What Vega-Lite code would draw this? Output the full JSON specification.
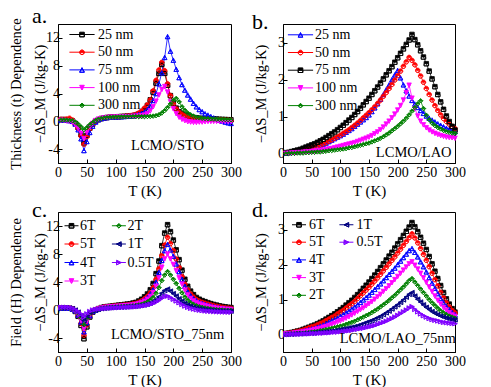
{
"$schema":"https://vega.github.io/schema/vega-lite/v6.json",
"background":"white",
"padding":{"left":7,"top":4,"right":0,"bottom":0},
"columns":2,
"spacing":{"row":49,"column":52},
"bounds":"flush",
"config":{
"font":"Liberation Serif",
"view":{"stroke":"#000","strokeWidth":1},
"axis":{"grid":false,"labelFontSize":14,"labelColor":"#000","titleFontSize":15,"titleFontWeight":"normal","titleColor":"#000","tickColor":"#000","domainColor":"#000","tickSize":-4,"labelPadding":2.5,"labelFlush":false,"labelOverlap":false,"titlePadding":2},
"axisX":{"labelPadding":6,"titlePadding":4},
"axisY":{"titleFontSize":14.5,"titleLineHeight":24},
"legend":{"orient":"none","symbolSize":196,"symbolStrokeWidth":1,"symbolOpacity":1,"labelFontSize":14,"labelColor":"#000","padding":0,"rowPadding":2.7},
"title":{"fontSize":22,"fontWeight":"normal","anchor":"start","frame":"group","offset":-10,"color":"#000"}
},
"datasets":{
"a":[
{"s":"25 nm","T":5,"v":0.25},{"s":"25 nm","T":10,"v":0.25},{"s":"25 nm","T":15,"v":0.2},{"s":"25 nm","T":20,"v":0.15},{"s":"25 nm","T":25,"v":0.05},{"s":"25 nm","T":30,"v":-0.3},{"s":"25 nm","T":35,"v":-0.9},{"s":"25 nm","T":40,"v":-1.9},{"s":"25 nm","T":45,"v":-3.1},{"s":"25 nm","T":50,"v":-2.0},{"s":"25 nm","T":55,"v":-1.0},{"s":"25 nm","T":60,"v":-0.4},{"s":"25 nm","T":65,"v":0},{"s":"25 nm","T":70,"v":0.25},{"s":"25 nm","T":75,"v":0.4},{"s":"25 nm","T":80,"v":0.5},{"s":"25 nm","T":85,"v":0.55},{"s":"25 nm","T":90,"v":0.6},{"s":"25 nm","T":95,"v":0.62},{"s":"25 nm","T":100,"v":0.65},{"s":"25 nm","T":105,"v":0.67},{"s":"25 nm","T":110,"v":0.7},{"s":"25 nm","T":115,"v":0.72},{"s":"25 nm","T":120,"v":0.75},{"s":"25 nm","T":125,"v":0.78},{"s":"25 nm","T":130,"v":0.82},{"s":"25 nm","T":135,"v":0.9},{"s":"25 nm","T":140,"v":1.05},{"s":"25 nm","T":145,"v":1.3},{"s":"25 nm","T":150,"v":1.7},{"s":"25 nm","T":155,"v":2.3},{"s":"25 nm","T":160,"v":3.1},{"s":"25 nm","T":165,"v":4.2},{"s":"25 nm","T":170,"v":5.5},{"s":"25 nm","T":175,"v":6.9},{"s":"25 nm","T":180,"v":8.2},{"s":"25 nm","T":185,"v":6.9},{"s":"25 nm","T":190,"v":5.2},{"s":"25 nm","T":195,"v":3.7},{"s":"25 nm","T":200,"v":2.6},{"s":"25 nm","T":205,"v":1.9},{"s":"25 nm","T":210,"v":1.4},{"s":"25 nm","T":215,"v":1.1},{"s":"25 nm","T":220,"v":0.9},{"s":"25 nm","T":225,"v":0.75},{"s":"25 nm","T":230,"v":0.65},{"s":"25 nm","T":235,"v":0.55},{"s":"25 nm","T":240,"v":0.5},{"s":"25 nm","T":245,"v":0.45},{"s":"25 nm","T":250,"v":0.42},{"s":"25 nm","T":255,"v":0.4},{"s":"25 nm","T":260,"v":0.38},{"s":"25 nm","T":265,"v":0.36},{"s":"25 nm","T":270,"v":0.34},{"s":"25 nm","T":275,"v":0.32},{"s":"25 nm","T":280,"v":0.3},{"s":"25 nm","T":285,"v":0.28},{"s":"25 nm","T":290,"v":0.26},{"s":"25 nm","T":295,"v":0.24},{"s":"25 nm","T":300,"v":0.22},
{"s":"50 nm","T":5,"v":0.3},{"s":"50 nm","T":10,"v":0.3},{"s":"50 nm","T":15,"v":0.35},{"s":"50 nm","T":20,"v":0.45},{"s":"50 nm","T":25,"v":0.2},{"s":"50 nm","T":30,"v":-0.3},{"s":"50 nm","T":35,"v":-1.0},{"s":"50 nm","T":40,"v":-2.1},{"s":"50 nm","T":45,"v":-3.3},{"s":"50 nm","T":50,"v":-2.2},{"s":"50 nm","T":55,"v":-1.1},{"s":"50 nm","T":60,"v":-0.4},{"s":"50 nm","T":65,"v":0},{"s":"50 nm","T":70,"v":0.25},{"s":"50 nm","T":75,"v":0.4},{"s":"50 nm","T":80,"v":0.5},{"s":"50 nm","T":85,"v":0.55},{"s":"50 nm","T":90,"v":0.6},{"s":"50 nm","T":95,"v":0.62},{"s":"50 nm","T":100,"v":0.65},{"s":"50 nm","T":105,"v":0.67},{"s":"50 nm","T":110,"v":0.7},{"s":"50 nm","T":115,"v":0.73},{"s":"50 nm","T":120,"v":0.77},{"s":"50 nm","T":125,"v":0.82},{"s":"50 nm","T":130,"v":0.9},{"s":"50 nm","T":135,"v":1.0},{"s":"50 nm","T":140,"v":1.2},{"s":"50 nm","T":145,"v":1.5},{"s":"50 nm","T":150,"v":1.9},{"s":"50 nm","T":155,"v":2.4},{"s":"50 nm","T":160,"v":3.1},{"s":"50 nm","T":165,"v":4.4},{"s":"50 nm","T":170,"v":5.9},{"s":"50 nm","T":175,"v":7.4},{"s":"50 nm","T":180,"v":8.5},{"s":"50 nm","T":185,"v":7.3},{"s":"50 nm","T":190,"v":5.4},{"s":"50 nm","T":195,"v":3.7},{"s":"50 nm","T":200,"v":2.5},{"s":"50 nm","T":205,"v":1.8},{"s":"50 nm","T":210,"v":1.3},{"s":"50 nm","T":215,"v":1.0},{"s":"50 nm","T":220,"v":0.8},{"s":"50 nm","T":225,"v":0.65},{"s":"50 nm","T":230,"v":0.55},{"s":"50 nm","T":235,"v":0.48},{"s":"50 nm","T":240,"v":0.42},{"s":"50 nm","T":245,"v":0.38},{"s":"50 nm","T":250,"v":0.35},{"s":"50 nm","T":255,"v":0.33},{"s":"50 nm","T":260,"v":0.31},{"s":"50 nm","T":265,"v":0.29},{"s":"50 nm","T":270,"v":0.27},{"s":"50 nm","T":275,"v":0.25},{"s":"50 nm","T":280,"v":0.23},{"s":"50 nm","T":285,"v":0.21},{"s":"50 nm","T":290,"v":0.2},{"s":"50 nm","T":295,"v":0.18},{"s":"50 nm","T":300,"v":0.16},
{"s":"75 nm","T":5,"v":0.2},{"s":"75 nm","T":10,"v":0.2},{"s":"75 nm","T":15,"v":0.15},{"s":"75 nm","T":20,"v":0.1},{"s":"75 nm","T":25,"v":0},{"s":"75 nm","T":30,"v":-0.4},{"s":"75 nm","T":35,"v":-1.2},{"s":"75 nm","T":40,"v":-2.5},{"s":"75 nm","T":45,"v":-4.2},{"s":"75 nm","T":50,"v":-2.9},{"s":"75 nm","T":55,"v":-1.6},{"s":"75 nm","T":60,"v":-0.7},{"s":"75 nm","T":65,"v":-0.1},{"s":"75 nm","T":70,"v":0.25},{"s":"75 nm","T":75,"v":0.4},{"s":"75 nm","T":80,"v":0.5},{"s":"75 nm","T":85,"v":0.55},{"s":"75 nm","T":90,"v":0.6},{"s":"75 nm","T":95,"v":0.62},{"s":"75 nm","T":100,"v":0.64},{"s":"75 nm","T":105,"v":0.66},{"s":"75 nm","T":110,"v":0.68},{"s":"75 nm","T":115,"v":0.7},{"s":"75 nm","T":120,"v":0.72},{"s":"75 nm","T":125,"v":0.75},{"s":"75 nm","T":130,"v":0.8},{"s":"75 nm","T":135,"v":0.9},{"s":"75 nm","T":140,"v":1.0},{"s":"75 nm","T":145,"v":1.15},{"s":"75 nm","T":150,"v":1.35},{"s":"75 nm","T":155,"v":1.7},{"s":"75 nm","T":160,"v":2.2},{"s":"75 nm","T":165,"v":3.0},{"s":"75 nm","T":170,"v":4.0},{"s":"75 nm","T":175,"v":5.4},{"s":"75 nm","T":180,"v":7.0},{"s":"75 nm","T":185,"v":9.2},{"s":"75 nm","T":190,"v":12.2},{"s":"75 nm","T":195,"v":10.1},{"s":"75 nm","T":200,"v":8.8},{"s":"75 nm","T":205,"v":7.5},{"s":"75 nm","T":210,"v":6.3},{"s":"75 nm","T":215,"v":5.3},{"s":"75 nm","T":220,"v":4.5},{"s":"75 nm","T":225,"v":3.8},{"s":"75 nm","T":230,"v":3.2},{"s":"75 nm","T":235,"v":2.6},{"s":"75 nm","T":240,"v":2.1},{"s":"75 nm","T":245,"v":1.7},{"s":"75 nm","T":250,"v":1.4},{"s":"75 nm","T":255,"v":1.1},{"s":"75 nm","T":260,"v":0.9},{"s":"75 nm","T":265,"v":0.7},{"s":"75 nm","T":270,"v":0.5},{"s":"75 nm","T":275,"v":0.35},{"s":"75 nm","T":280,"v":0.2},{"s":"75 nm","T":285,"v":0.05},{"s":"75 nm","T":290,"v":-0.1},{"s":"75 nm","T":295,"v":-0.2},{"s":"75 nm","T":300,"v":-0.3},
{"s":"100 nm","T":5,"v":0.15},{"s":"100 nm","T":10,"v":0.1},{"s":"100 nm","T":15,"v":0.05},{"s":"100 nm","T":20,"v":0},{"s":"100 nm","T":25,"v":-0.1},{"s":"100 nm","T":30,"v":-0.5},{"s":"100 nm","T":35,"v":-1.0},{"s":"100 nm","T":40,"v":-1.7},{"s":"100 nm","T":45,"v":-2.5},{"s":"100 nm","T":50,"v":-1.6},{"s":"100 nm","T":55,"v":-0.8},{"s":"100 nm","T":60,"v":-0.3},{"s":"100 nm","T":65,"v":0.1},{"s":"100 nm","T":70,"v":0.3},{"s":"100 nm","T":75,"v":0.4},{"s":"100 nm","T":80,"v":0.5},{"s":"100 nm","T":85,"v":0.55},{"s":"100 nm","T":90,"v":0.58},{"s":"100 nm","T":95,"v":0.6},{"s":"100 nm","T":100,"v":0.62},{"s":"100 nm","T":105,"v":0.63},{"s":"100 nm","T":110,"v":0.65},{"s":"100 nm","T":115,"v":0.66},{"s":"100 nm","T":120,"v":0.67},{"s":"100 nm","T":125,"v":0.68},{"s":"100 nm","T":130,"v":0.7},{"s":"100 nm","T":135,"v":0.72},{"s":"100 nm","T":140,"v":0.75},{"s":"100 nm","T":145,"v":0.8},{"s":"100 nm","T":150,"v":0.9},{"s":"100 nm","T":155,"v":1.1},{"s":"100 nm","T":160,"v":1.5},{"s":"100 nm","T":165,"v":2.1},{"s":"100 nm","T":170,"v":2.9},{"s":"100 nm","T":175,"v":3.8},{"s":"100 nm","T":180,"v":4.6},{"s":"100 nm","T":185,"v":5.0},{"s":"100 nm","T":190,"v":4.2},{"s":"100 nm","T":195,"v":2.8},{"s":"100 nm","T":200,"v":1.8},{"s":"100 nm","T":205,"v":1.1},{"s":"100 nm","T":210,"v":0.6},{"s":"100 nm","T":215,"v":0.3},{"s":"100 nm","T":220,"v":0.1},{"s":"100 nm","T":225,"v":-0.05},{"s":"100 nm","T":230,"v":-0.1},{"s":"100 nm","T":235,"v":-0.15},{"s":"100 nm","T":240,"v":-0.15},{"s":"100 nm","T":245,"v":-0.1},{"s":"100 nm","T":250,"v":-0.1},{"s":"100 nm","T":255,"v":-0.05},{"s":"100 nm","T":260,"v":0},{"s":"100 nm","T":265,"v":0},{"s":"100 nm","T":270,"v":0},{"s":"100 nm","T":275,"v":0},{"s":"100 nm","T":280,"v":0},{"s":"100 nm","T":285,"v":0},{"s":"100 nm","T":290,"v":0},{"s":"100 nm","T":295,"v":0},{"s":"100 nm","T":300,"v":0},
{"s":"300 nm","T":5,"v":0.2},{"s":"300 nm","T":10,"v":0.2},{"s":"300 nm","T":15,"v":0.2},{"s":"300 nm","T":20,"v":0.15},{"s":"300 nm","T":25,"v":0.1},{"s":"300 nm","T":30,"v":-0.1},{"s":"300 nm","T":35,"v":-0.4},{"s":"300 nm","T":40,"v":-0.8},{"s":"300 nm","T":45,"v":-1.2},{"s":"300 nm","T":50,"v":-0.9},{"s":"300 nm","T":55,"v":-0.5},{"s":"300 nm","T":60,"v":-0.2},{"s":"300 nm","T":65,"v":0.1},{"s":"300 nm","T":70,"v":0.3},{"s":"300 nm","T":75,"v":0.4},{"s":"300 nm","T":80,"v":0.5},{"s":"300 nm","T":85,"v":0.55},{"s":"300 nm","T":90,"v":0.58},{"s":"300 nm","T":95,"v":0.6},{"s":"300 nm","T":100,"v":0.62},{"s":"300 nm","T":105,"v":0.63},{"s":"300 nm","T":110,"v":0.64},{"s":"300 nm","T":115,"v":0.65},{"s":"300 nm","T":120,"v":0.66},{"s":"300 nm","T":125,"v":0.67},{"s":"300 nm","T":130,"v":0.68},{"s":"300 nm","T":135,"v":0.68},{"s":"300 nm","T":140,"v":0.68},{"s":"300 nm","T":145,"v":0.68},{"s":"300 nm","T":150,"v":0.68},{"s":"300 nm","T":155,"v":0.7},{"s":"300 nm","T":160,"v":0.72},{"s":"300 nm","T":165,"v":0.76},{"s":"300 nm","T":170,"v":0.82},{"s":"300 nm","T":175,"v":0.95},{"s":"300 nm","T":180,"v":1.2},{"s":"300 nm","T":185,"v":1.55},{"s":"300 nm","T":190,"v":2.0},{"s":"300 nm","T":195,"v":2.5},{"s":"300 nm","T":200,"v":3.0},{"s":"300 nm","T":205,"v":3.3},{"s":"300 nm","T":210,"v":2.8},{"s":"300 nm","T":215,"v":2.1},{"s":"300 nm","T":220,"v":1.6},{"s":"300 nm","T":225,"v":1.2},{"s":"300 nm","T":230,"v":0.95},{"s":"300 nm","T":235,"v":0.75},{"s":"300 nm","T":240,"v":0.6},{"s":"300 nm","T":245,"v":0.5},{"s":"300 nm","T":250,"v":0.45},{"s":"300 nm","T":255,"v":0.4},{"s":"300 nm","T":260,"v":0.38},{"s":"300 nm","T":265,"v":0.36},{"s":"300 nm","T":270,"v":0.34},{"s":"300 nm","T":275,"v":0.32},{"s":"300 nm","T":280,"v":0.3},{"s":"300 nm","T":285,"v":0.28},{"s":"300 nm","T":290,"v":0.26},{"s":"300 nm","T":295,"v":0.24},{"s":"300 nm","T":300,"v":0.22}
],
"b":[
{"s":"25 nm","T":5,"v":0.02},{"s":"25 nm","T":10,"v":0.03},{"s":"25 nm","T":15,"v":0.04},{"s":"25 nm","T":20,"v":0.05},{"s":"25 nm","T":25,"v":0.06},{"s":"25 nm","T":30,"v":0.08},{"s":"25 nm","T":35,"v":0.1},{"s":"25 nm","T":40,"v":0.11},{"s":"25 nm","T":45,"v":0.13},{"s":"25 nm","T":50,"v":0.15},{"s":"25 nm","T":55,"v":0.17},{"s":"25 nm","T":60,"v":0.2},{"s":"25 nm","T":65,"v":0.23},{"s":"25 nm","T":70,"v":0.26},{"s":"25 nm","T":75,"v":0.29},{"s":"25 nm","T":80,"v":0.33},{"s":"25 nm","T":85,"v":0.37},{"s":"25 nm","T":90,"v":0.41},{"s":"25 nm","T":95,"v":0.45},{"s":"25 nm","T":100,"v":0.49},{"s":"25 nm","T":105,"v":0.53},{"s":"25 nm","T":110,"v":0.58},{"s":"25 nm","T":115,"v":0.63},{"s":"25 nm","T":120,"v":0.68},{"s":"25 nm","T":125,"v":0.74},{"s":"25 nm","T":130,"v":0.8},{"s":"25 nm","T":135,"v":0.86},{"s":"25 nm","T":140,"v":0.92},{"s":"25 nm","T":145,"v":0.98},{"s":"25 nm","T":150,"v":1.05},{"s":"25 nm","T":155,"v":1.14},{"s":"25 nm","T":160,"v":1.24},{"s":"25 nm","T":165,"v":1.35},{"s":"25 nm","T":170,"v":1.47},{"s":"25 nm","T":175,"v":1.6},{"s":"25 nm","T":180,"v":1.73},{"s":"25 nm","T":185,"v":1.86},{"s":"25 nm","T":190,"v":2.0},{"s":"25 nm","T":195,"v":2.13},{"s":"25 nm","T":200,"v":2.25},{"s":"25 nm","T":205,"v":2.05},{"s":"25 nm","T":210,"v":1.86},{"s":"25 nm","T":215,"v":1.7},{"s":"25 nm","T":220,"v":1.56},{"s":"25 nm","T":225,"v":1.44},{"s":"25 nm","T":230,"v":1.34},{"s":"25 nm","T":235,"v":1.25},{"s":"25 nm","T":240,"v":1.17},{"s":"25 nm","T":245,"v":1.09},{"s":"25 nm","T":250,"v":1.02},{"s":"25 nm","T":255,"v":0.96},{"s":"25 nm","T":260,"v":0.91},{"s":"25 nm","T":265,"v":0.86},{"s":"25 nm","T":270,"v":0.81},{"s":"25 nm","T":275,"v":0.77},{"s":"25 nm","T":280,"v":0.73},{"s":"25 nm","T":285,"v":0.69},{"s":"25 nm","T":290,"v":0.66},{"s":"25 nm","T":295,"v":0.63},{"s":"25 nm","T":300,"v":0.6},
{"s":"50 nm","T":5,"v":0.02},{"s":"50 nm","T":10,"v":0.03},{"s":"50 nm","T":15,"v":0.04},{"s":"50 nm","T":20,"v":0.05},{"s":"50 nm","T":25,"v":0.07},{"s":"50 nm","T":30,"v":0.08},{"s":"50 nm","T":35,"v":0.1},{"s":"50 nm","T":40,"v":0.12},{"s":"50 nm","T":45,"v":0.14},{"s":"50 nm","T":50,"v":0.16},{"s":"50 nm","T":55,"v":0.18},{"s":"50 nm","T":60,"v":0.21},{"s":"50 nm","T":65,"v":0.24},{"s":"50 nm","T":70,"v":0.27},{"s":"50 nm","T":75,"v":0.3},{"s":"50 nm","T":80,"v":0.34},{"s":"50 nm","T":85,"v":0.38},{"s":"50 nm","T":90,"v":0.42},{"s":"50 nm","T":95,"v":0.46},{"s":"50 nm","T":100,"v":0.5},{"s":"50 nm","T":105,"v":0.55},{"s":"50 nm","T":110,"v":0.6},{"s":"50 nm","T":115,"v":0.65},{"s":"50 nm","T":120,"v":0.71},{"s":"50 nm","T":125,"v":0.77},{"s":"50 nm","T":130,"v":0.83},{"s":"50 nm","T":135,"v":0.9},{"s":"50 nm","T":140,"v":0.97},{"s":"50 nm","T":145,"v":1.04},{"s":"50 nm","T":150,"v":1.11},{"s":"50 nm","T":155,"v":1.19},{"s":"50 nm","T":160,"v":1.27},{"s":"50 nm","T":165,"v":1.36},{"s":"50 nm","T":170,"v":1.45},{"s":"50 nm","T":175,"v":1.55},{"s":"50 nm","T":180,"v":1.65},{"s":"50 nm","T":185,"v":1.76},{"s":"50 nm","T":190,"v":1.87},{"s":"50 nm","T":195,"v":1.99},{"s":"50 nm","T":200,"v":2.11},{"s":"50 nm","T":205,"v":2.23},{"s":"50 nm","T":210,"v":2.36},{"s":"50 nm","T":215,"v":2.48},{"s":"50 nm","T":220,"v":2.6},{"s":"50 nm","T":225,"v":2.52},{"s":"50 nm","T":230,"v":2.4},{"s":"50 nm","T":235,"v":2.25},{"s":"50 nm","T":240,"v":2.1},{"s":"50 nm","T":245,"v":1.93},{"s":"50 nm","T":250,"v":1.76},{"s":"50 nm","T":255,"v":1.6},{"s":"50 nm","T":260,"v":1.45},{"s":"50 nm","T":265,"v":1.3},{"s":"50 nm","T":270,"v":1.17},{"s":"50 nm","T":275,"v":1.05},{"s":"50 nm","T":280,"v":0.95},{"s":"50 nm","T":285,"v":0.87},{"s":"50 nm","T":290,"v":0.8},{"s":"50 nm","T":295,"v":0.74},{"s":"50 nm","T":300,"v":0.68},
{"s":"75 nm","T":5,"v":0.03},{"s":"75 nm","T":10,"v":0.04},{"s":"75 nm","T":15,"v":0.06},{"s":"75 nm","T":20,"v":0.08},{"s":"75 nm","T":25,"v":0.1},{"s":"75 nm","T":30,"v":0.12},{"s":"75 nm","T":35,"v":0.15},{"s":"75 nm","T":40,"v":0.18},{"s":"75 nm","T":45,"v":0.21},{"s":"75 nm","T":50,"v":0.24},{"s":"75 nm","T":55,"v":0.27},{"s":"75 nm","T":60,"v":0.31},{"s":"75 nm","T":65,"v":0.35},{"s":"75 nm","T":70,"v":0.39},{"s":"75 nm","T":75,"v":0.44},{"s":"75 nm","T":80,"v":0.49},{"s":"75 nm","T":85,"v":0.54},{"s":"75 nm","T":90,"v":0.59},{"s":"75 nm","T":95,"v":0.65},{"s":"75 nm","T":100,"v":0.71},{"s":"75 nm","T":105,"v":0.77},{"s":"75 nm","T":110,"v":0.84},{"s":"75 nm","T":115,"v":0.91},{"s":"75 nm","T":120,"v":0.98},{"s":"75 nm","T":125,"v":1.06},{"s":"75 nm","T":130,"v":1.14},{"s":"75 nm","T":135,"v":1.23},{"s":"75 nm","T":140,"v":1.32},{"s":"75 nm","T":145,"v":1.41},{"s":"75 nm","T":150,"v":1.5},{"s":"75 nm","T":155,"v":1.6},{"s":"75 nm","T":160,"v":1.7},{"s":"75 nm","T":165,"v":1.8},{"s":"75 nm","T":170,"v":1.91},{"s":"75 nm","T":175,"v":2.02},{"s":"75 nm","T":180,"v":2.13},{"s":"75 nm","T":185,"v":2.24},{"s":"75 nm","T":190,"v":2.35},{"s":"75 nm","T":195,"v":2.47},{"s":"75 nm","T":200,"v":2.59},{"s":"75 nm","T":205,"v":2.71},{"s":"75 nm","T":210,"v":2.83},{"s":"75 nm","T":215,"v":2.95},{"s":"75 nm","T":220,"v":3.07},{"s":"75 nm","T":225,"v":3.22},{"s":"75 nm","T":230,"v":3.08},{"s":"75 nm","T":235,"v":2.94},{"s":"75 nm","T":240,"v":2.78},{"s":"75 nm","T":245,"v":2.61},{"s":"75 nm","T":250,"v":2.43},{"s":"75 nm","T":255,"v":2.23},{"s":"75 nm","T":260,"v":2.02},{"s":"75 nm","T":265,"v":1.81},{"s":"75 nm","T":270,"v":1.6},{"s":"75 nm","T":275,"v":1.4},{"s":"75 nm","T":280,"v":1.2},{"s":"75 nm","T":285,"v":1.02},{"s":"75 nm","T":290,"v":0.87},{"s":"75 nm","T":295,"v":0.74},{"s":"75 nm","T":300,"v":0.64},
{"s":"100 nm","T":5,"v":0.01},{"s":"100 nm","T":10,"v":0.01},{"s":"100 nm","T":15,"v":0.02},{"s":"100 nm","T":20,"v":0.02},{"s":"100 nm","T":25,"v":0.03},{"s":"100 nm","T":30,"v":0.03},{"s":"100 nm","T":35,"v":0.04},{"s":"100 nm","T":40,"v":0.05},{"s":"100 nm","T":45,"v":0.05},{"s":"100 nm","T":50,"v":0.06},{"s":"100 nm","T":55,"v":0.07},{"s":"100 nm","T":60,"v":0.08},{"s":"100 nm","T":65,"v":0.09},{"s":"100 nm","T":70,"v":0.1},{"s":"100 nm","T":75,"v":0.11},{"s":"100 nm","T":80,"v":0.13},{"s":"100 nm","T":85,"v":0.14},{"s":"100 nm","T":90,"v":0.16},{"s":"100 nm","T":95,"v":0.18},{"s":"100 nm","T":100,"v":0.2},{"s":"100 nm","T":105,"v":0.22},{"s":"100 nm","T":110,"v":0.24},{"s":"100 nm","T":115,"v":0.26},{"s":"100 nm","T":120,"v":0.28},{"s":"100 nm","T":125,"v":0.3},{"s":"100 nm","T":130,"v":0.33},{"s":"100 nm","T":135,"v":0.36},{"s":"100 nm","T":140,"v":0.39},{"s":"100 nm","T":145,"v":0.42},{"s":"100 nm","T":150,"v":0.45},{"s":"100 nm","T":155,"v":0.49},{"s":"100 nm","T":160,"v":0.54},{"s":"100 nm","T":165,"v":0.59},{"s":"100 nm","T":170,"v":0.65},{"s":"100 nm","T":175,"v":0.72},{"s":"100 nm","T":180,"v":0.8},{"s":"100 nm","T":185,"v":0.88},{"s":"100 nm","T":190,"v":0.97},{"s":"100 nm","T":195,"v":1.07},{"s":"100 nm","T":200,"v":1.18},{"s":"100 nm","T":205,"v":1.3},{"s":"100 nm","T":210,"v":1.45},{"s":"100 nm","T":215,"v":1.65},{"s":"100 nm","T":220,"v":1.85},{"s":"100 nm","T":225,"v":1.5},{"s":"100 nm","T":230,"v":1.22},{"s":"100 nm","T":235,"v":1.02},{"s":"100 nm","T":240,"v":0.88},{"s":"100 nm","T":245,"v":0.78},{"s":"100 nm","T":250,"v":0.7},{"s":"100 nm","T":255,"v":0.64},{"s":"100 nm","T":260,"v":0.59},{"s":"100 nm","T":265,"v":0.55},{"s":"100 nm","T":270,"v":0.52},{"s":"100 nm","T":275,"v":0.49},{"s":"100 nm","T":280,"v":0.47},{"s":"100 nm","T":285,"v":0.45},{"s":"100 nm","T":290,"v":0.44},{"s":"100 nm","T":295,"v":0.43},{"s":"100 nm","T":300,"v":0.42},
{"s":"300 nm","T":5,"v":0},{"s":"300 nm","T":10,"v":0.01},{"s":"300 nm","T":15,"v":0.01},{"s":"300 nm","T":20,"v":0.01},{"s":"300 nm","T":25,"v":0.02},{"s":"300 nm","T":30,"v":0.02},{"s":"300 nm","T":35,"v":0.02},{"s":"300 nm","T":40,"v":0.03},{"s":"300 nm","T":45,"v":0.03},{"s":"300 nm","T":50,"v":0.04},{"s":"300 nm","T":55,"v":0.04},{"s":"300 nm","T":60,"v":0.05},{"s":"300 nm","T":65,"v":0.05},{"s":"300 nm","T":70,"v":0.06},{"s":"300 nm","T":75,"v":0.07},{"s":"300 nm","T":80,"v":0.08},{"s":"300 nm","T":85,"v":0.09},{"s":"300 nm","T":90,"v":0.1},{"s":"300 nm","T":95,"v":0.11},{"s":"300 nm","T":100,"v":0.12},{"s":"300 nm","T":105,"v":0.13},{"s":"300 nm","T":110,"v":0.14},{"s":"300 nm","T":115,"v":0.16},{"s":"300 nm","T":120,"v":0.17},{"s":"300 nm","T":125,"v":0.19},{"s":"300 nm","T":130,"v":0.21},{"s":"300 nm","T":135,"v":0.23},{"s":"300 nm","T":140,"v":0.25},{"s":"300 nm","T":145,"v":0.27},{"s":"300 nm","T":150,"v":0.29},{"s":"300 nm","T":155,"v":0.32},{"s":"300 nm","T":160,"v":0.35},{"s":"300 nm","T":165,"v":0.38},{"s":"300 nm","T":170,"v":0.42},{"s":"300 nm","T":175,"v":0.46},{"s":"300 nm","T":180,"v":0.51},{"s":"300 nm","T":185,"v":0.56},{"s":"300 nm","T":190,"v":0.62},{"s":"300 nm","T":195,"v":0.68},{"s":"300 nm","T":200,"v":0.74},{"s":"300 nm","T":205,"v":0.81},{"s":"300 nm","T":210,"v":0.88},{"s":"300 nm","T":215,"v":0.96},{"s":"300 nm","T":220,"v":1.05},{"s":"300 nm","T":225,"v":1.15},{"s":"300 nm","T":230,"v":1.25},{"s":"300 nm","T":235,"v":1.35},{"s":"300 nm","T":240,"v":1.43},{"s":"300 nm","T":245,"v":1.22},{"s":"300 nm","T":250,"v":1.04},{"s":"300 nm","T":255,"v":0.92},{"s":"300 nm","T":260,"v":0.83},{"s":"300 nm","T":265,"v":0.76},{"s":"300 nm","T":270,"v":0.71},{"s":"300 nm","T":275,"v":0.67},{"s":"300 nm","T":280,"v":0.63},{"s":"300 nm","T":285,"v":0.6},{"s":"300 nm","T":290,"v":0.58},{"s":"300 nm","T":295,"v":0.56},{"s":"300 nm","T":300,"v":0.55}
],
"c":[
{"s":"6T","T":5,"v":0.3},{"s":"6T","T":10,"v":0.3},{"s":"6T","T":15,"v":0.3},{"s":"6T","T":20,"v":0.25},{"s":"6T","T":25,"v":0.15},{"s":"6T","T":30,"v":-0.2},{"s":"6T","T":35,"v":-0.9},{"s":"6T","T":40,"v":-2.2},{"s":"6T","T":45,"v":-4.1},{"s":"6T","T":50,"v":-2.4},{"s":"6T","T":55,"v":-1.0},{"s":"6T","T":60,"v":-0.3},{"s":"6T","T":65,"v":0},{"s":"6T","T":70,"v":0.2},{"s":"6T","T":75,"v":0.35},{"s":"6T","T":80,"v":0.45},{"s":"6T","T":85,"v":0.5},{"s":"6T","T":90,"v":0.55},{"s":"6T","T":95,"v":0.6},{"s":"6T","T":100,"v":0.65},{"s":"6T","T":105,"v":0.7},{"s":"6T","T":110,"v":0.75},{"s":"6T","T":115,"v":0.8},{"s":"6T","T":120,"v":0.85},{"s":"6T","T":125,"v":0.9},{"s":"6T","T":130,"v":1.0},{"s":"6T","T":135,"v":1.1},{"s":"6T","T":140,"v":1.3},{"s":"6T","T":145,"v":1.55},{"s":"6T","T":150,"v":1.9},{"s":"6T","T":155,"v":2.3},{"s":"6T","T":160,"v":2.9},{"s":"6T","T":165,"v":3.8},{"s":"6T","T":170,"v":5.2},{"s":"6T","T":175,"v":7.0},{"s":"6T","T":180,"v":9.2},{"s":"6T","T":185,"v":11.0},{"s":"6T","T":190,"v":12.2},{"s":"6T","T":195,"v":11.2},{"s":"6T","T":200,"v":10.0},{"s":"6T","T":205,"v":8.6},{"s":"6T","T":210,"v":7.2},{"s":"6T","T":215,"v":5.7},{"s":"6T","T":220,"v":4.4},{"s":"6T","T":225,"v":3.4},{"s":"6T","T":230,"v":2.7},{"s":"6T","T":235,"v":2.2},{"s":"6T","T":240,"v":1.8},{"s":"6T","T":245,"v":1.55},{"s":"6T","T":250,"v":1.35},{"s":"6T","T":255,"v":1.2},{"s":"6T","T":260,"v":1.05},{"s":"6T","T":265,"v":0.92},{"s":"6T","T":270,"v":0.8},{"s":"6T","T":275,"v":0.7},{"s":"6T","T":280,"v":0.6},{"s":"6T","T":285,"v":0.52},{"s":"6T","T":290,"v":0.45},{"s":"6T","T":295,"v":0.4},{"s":"6T","T":300,"v":0.35},
{"s":"5T","T":5,"v":0.3},{"s":"5T","T":10,"v":0.3},{"s":"5T","T":15,"v":0.3},{"s":"5T","T":20,"v":0.25},{"s":"5T","T":25,"v":0.15},{"s":"5T","T":30,"v":-0.15},{"s":"5T","T":35,"v":-0.8},{"s":"5T","T":40,"v":-1.9},{"s":"5T","T":45,"v":-3.6},{"s":"5T","T":50,"v":-2.1},{"s":"5T","T":55,"v":-0.9},{"s":"5T","T":60,"v":-0.25},{"s":"5T","T":65,"v":0},{"s":"5T","T":70,"v":0.2},{"s":"5T","T":75,"v":0.33},{"s":"5T","T":80,"v":0.42},{"s":"5T","T":85,"v":0.47},{"s":"5T","T":90,"v":0.52},{"s":"5T","T":95,"v":0.56},{"s":"5T","T":100,"v":0.6},{"s":"5T","T":105,"v":0.64},{"s":"5T","T":110,"v":0.68},{"s":"5T","T":115,"v":0.72},{"s":"5T","T":120,"v":0.76},{"s":"5T","T":125,"v":0.81},{"s":"5T","T":130,"v":0.88},{"s":"5T","T":135,"v":0.97},{"s":"5T","T":140,"v":1.12},{"s":"5T","T":145,"v":1.32},{"s":"5T","T":150,"v":1.6},{"s":"5T","T":155,"v":1.95},{"s":"5T","T":160,"v":2.45},{"s":"5T","T":165,"v":3.2},{"s":"5T","T":170,"v":4.4},{"s":"5T","T":175,"v":5.9},{"s":"5T","T":180,"v":7.8},{"s":"5T","T":185,"v":9.3},{"s":"5T","T":190,"v":10.4},{"s":"5T","T":195,"v":9.5},{"s":"5T","T":200,"v":8.5},{"s":"5T","T":205,"v":7.3},{"s":"5T","T":210,"v":6.1},{"s":"5T","T":215,"v":4.8},{"s":"5T","T":220,"v":3.7},{"s":"5T","T":225,"v":2.9},{"s":"5T","T":230,"v":2.3},{"s":"5T","T":235,"v":1.85},{"s":"5T","T":240,"v":1.5},{"s":"5T","T":245,"v":1.28},{"s":"5T","T":250,"v":1.1},{"s":"5T","T":255,"v":0.97},{"s":"5T","T":260,"v":0.85},{"s":"5T","T":265,"v":0.74},{"s":"5T","T":270,"v":0.64},{"s":"5T","T":275,"v":0.55},{"s":"5T","T":280,"v":0.47},{"s":"5T","T":285,"v":0.4},{"s":"5T","T":290,"v":0.34},{"s":"5T","T":295,"v":0.29},{"s":"5T","T":300,"v":0.25},
{"s":"4T","T":5,"v":0.3},{"s":"4T","T":10,"v":0.3},{"s":"4T","T":15,"v":0.3},{"s":"4T","T":20,"v":0.25},{"s":"4T","T":25,"v":0.15},{"s":"4T","T":30,"v":-0.1},{"s":"4T","T":35,"v":-0.7},{"s":"4T","T":40,"v":-1.7},{"s":"4T","T":45,"v":-3.1},{"s":"4T","T":50,"v":-1.8},{"s":"4T","T":55,"v":-0.8},{"s":"4T","T":60,"v":-0.2},{"s":"4T","T":65,"v":0},{"s":"4T","T":70,"v":0.18},{"s":"4T","T":75,"v":0.3},{"s":"4T","T":80,"v":0.38},{"s":"4T","T":85,"v":0.43},{"s":"4T","T":90,"v":0.47},{"s":"4T","T":95,"v":0.51},{"s":"4T","T":100,"v":0.55},{"s":"4T","T":105,"v":0.58},{"s":"4T","T":110,"v":0.62},{"s":"4T","T":115,"v":0.66},{"s":"4T","T":120,"v":0.7},{"s":"4T","T":125,"v":0.74},{"s":"4T","T":130,"v":0.8},{"s":"4T","T":135,"v":0.88},{"s":"4T","T":140,"v":1.0},{"s":"4T","T":145,"v":1.18},{"s":"4T","T":150,"v":1.45},{"s":"4T","T":155,"v":1.78},{"s":"4T","T":160,"v":2.23},{"s":"4T","T":165,"v":2.9},{"s":"4T","T":170,"v":4.0},{"s":"4T","T":175,"v":5.4},{"s":"4T","T":180,"v":7.1},{"s":"4T","T":185,"v":8.5},{"s":"4T","T":190,"v":9.4},{"s":"4T","T":195,"v":8.6},{"s":"4T","T":200,"v":7.7},{"s":"4T","T":205,"v":6.6},{"s":"4T","T":210,"v":5.5},{"s":"4T","T":215,"v":4.4},{"s":"4T","T":220,"v":3.4},{"s":"4T","T":225,"v":2.6},{"s":"4T","T":230,"v":2.05},{"s":"4T","T":235,"v":1.65},{"s":"4T","T":240,"v":1.35},{"s":"4T","T":245,"v":1.13},{"s":"4T","T":250,"v":0.96},{"s":"4T","T":255,"v":0.82},{"s":"4T","T":260,"v":0.7},{"s":"4T","T":265,"v":0.6},{"s":"4T","T":270,"v":0.5},{"s":"4T","T":275,"v":0.42},{"s":"4T","T":280,"v":0.35},{"s":"4T","T":285,"v":0.28},{"s":"4T","T":290,"v":0.22},{"s":"4T","T":295,"v":0.18},{"s":"4T","T":300,"v":0.15},
{"s":"3T","T":5,"v":0.3},{"s":"3T","T":10,"v":0.3},{"s":"3T","T":15,"v":0.3},{"s":"3T","T":20,"v":0.25},{"s":"3T","T":25,"v":0.15},{"s":"3T","T":30,"v":-0.1},{"s":"3T","T":35,"v":-0.6},{"s":"3T","T":40,"v":-1.5},{"s":"3T","T":45,"v":-2.7},{"s":"3T","T":50,"v":-1.6},{"s":"3T","T":55,"v":-0.7},{"s":"3T","T":60,"v":-0.2},{"s":"3T","T":65,"v":0},{"s":"3T","T":70,"v":0.15},{"s":"3T","T":75,"v":0.27},{"s":"3T","T":80,"v":0.35},{"s":"3T","T":85,"v":0.4},{"s":"3T","T":90,"v":0.44},{"s":"3T","T":95,"v":0.47},{"s":"3T","T":100,"v":0.5},{"s":"3T","T":105,"v":0.53},{"s":"3T","T":110,"v":0.56},{"s":"3T","T":115,"v":0.6},{"s":"3T","T":120,"v":0.63},{"s":"3T","T":125,"v":0.67},{"s":"3T","T":130,"v":0.72},{"s":"3T","T":135,"v":0.79},{"s":"3T","T":140,"v":0.89},{"s":"3T","T":145,"v":1.04},{"s":"3T","T":150,"v":1.26},{"s":"3T","T":155,"v":1.55},{"s":"3T","T":160,"v":1.93},{"s":"3T","T":165,"v":2.5},{"s":"3T","T":170,"v":3.4},{"s":"3T","T":175,"v":4.6},{"s":"3T","T":180,"v":6.1},{"s":"3T","T":185,"v":7.3},{"s":"3T","T":190,"v":8.0},{"s":"3T","T":195,"v":7.3},{"s":"3T","T":200,"v":6.5},{"s":"3T","T":205,"v":5.6},{"s":"3T","T":210,"v":4.6},{"s":"3T","T":215,"v":3.7},{"s":"3T","T":220,"v":2.85},{"s":"3T","T":225,"v":2.15},{"s":"3T","T":230,"v":1.65},{"s":"3T","T":235,"v":1.3},{"s":"3T","T":240,"v":1.05},{"s":"3T","T":245,"v":0.86},{"s":"3T","T":250,"v":0.72},{"s":"3T","T":255,"v":0.6},{"s":"3T","T":260,"v":0.5},{"s":"3T","T":265,"v":0.4},{"s":"3T","T":270,"v":0.32},{"s":"3T","T":275,"v":0.25},{"s":"3T","T":280,"v":0.19},{"s":"3T","T":285,"v":0.14},{"s":"3T","T":290,"v":0.1},{"s":"3T","T":295,"v":0.07},{"s":"3T","T":300,"v":0.05},
{"s":"2T","T":5,"v":0.3},{"s":"2T","T":10,"v":0.3},{"s":"2T","T":15,"v":0.3},{"s":"2T","T":20,"v":0.25},{"s":"2T","T":25,"v":0.15},{"s":"2T","T":30,"v":-0.05},{"s":"2T","T":35,"v":-0.45},{"s":"2T","T":40,"v":-1.1},{"s":"2T","T":45,"v":-2.1},{"s":"2T","T":50,"v":-1.2},{"s":"2T","T":55,"v":-0.5},{"s":"2T","T":60,"v":-0.15},{"s":"2T","T":65,"v":0},{"s":"2T","T":70,"v":0.13},{"s":"2T","T":75,"v":0.23},{"s":"2T","T":80,"v":0.3},{"s":"2T","T":85,"v":0.35},{"s":"2T","T":90,"v":0.38},{"s":"2T","T":95,"v":0.41},{"s":"2T","T":100,"v":0.44},{"s":"2T","T":105,"v":0.46},{"s":"2T","T":110,"v":0.49},{"s":"2T","T":115,"v":0.52},{"s":"2T","T":120,"v":0.55},{"s":"2T","T":125,"v":0.58},{"s":"2T","T":130,"v":0.62},{"s":"2T","T":135,"v":0.67},{"s":"2T","T":140,"v":0.74},{"s":"2T","T":145,"v":0.84},{"s":"2T","T":150,"v":0.98},{"s":"2T","T":155,"v":1.17},{"s":"2T","T":160,"v":1.42},{"s":"2T","T":165,"v":1.8},{"s":"2T","T":170,"v":2.4},{"s":"2T","T":175,"v":3.2},{"s":"2T","T":180,"v":4.2},{"s":"2T","T":185,"v":5.0},{"s":"2T","T":190,"v":5.5},{"s":"2T","T":195,"v":5.0},{"s":"2T","T":200,"v":4.4},{"s":"2T","T":205,"v":3.8},{"s":"2T","T":210,"v":3.1},{"s":"2T","T":215,"v":2.45},{"s":"2T","T":220,"v":1.85},{"s":"2T","T":225,"v":1.4},{"s":"2T","T":230,"v":1.05},{"s":"2T","T":235,"v":0.8},{"s":"2T","T":240,"v":0.62},{"s":"2T","T":245,"v":0.48},{"s":"2T","T":250,"v":0.38},{"s":"2T","T":255,"v":0.3},{"s":"2T","T":260,"v":0.23},{"s":"2T","T":265,"v":0.17},{"s":"2T","T":270,"v":0.12},{"s":"2T","T":275,"v":0.08},{"s":"2T","T":280,"v":0.04},{"s":"2T","T":285,"v":0.01},{"s":"2T","T":290,"v":-0.02},{"s":"2T","T":295,"v":-0.04},{"s":"2T","T":300,"v":-0.05},
{"s":"1T","T":5,"v":0.35},{"s":"1T","T":10,"v":0.35},{"s":"1T","T":15,"v":0.35},{"s":"1T","T":20,"v":0.3},{"s":"1T","T":25,"v":0.2},{"s":"1T","T":30,"v":0},{"s":"1T","T":35,"v":-0.3},{"s":"1T","T":40,"v":-0.8},{"s":"1T","T":45,"v":-1.5},{"s":"1T","T":50,"v":-0.8},{"s":"1T","T":55,"v":-0.3},{"s":"1T","T":60,"v":-0.05},{"s":"1T","T":65,"v":0.05},{"s":"1T","T":70,"v":0.13},{"s":"1T","T":75,"v":0.2},{"s":"1T","T":80,"v":0.25},{"s":"1T","T":85,"v":0.29},{"s":"1T","T":90,"v":0.32},{"s":"1T","T":95,"v":0.35},{"s":"1T","T":100,"v":0.38},{"s":"1T","T":105,"v":0.4},{"s":"1T","T":110,"v":0.42},{"s":"1T","T":115,"v":0.44},{"s":"1T","T":120,"v":0.46},{"s":"1T","T":125,"v":0.48},{"s":"1T","T":130,"v":0.51},{"s":"1T","T":135,"v":0.55},{"s":"1T","T":140,"v":0.6},{"s":"1T","T":145,"v":0.66},{"s":"1T","T":150,"v":0.74},{"s":"1T","T":155,"v":0.85},{"s":"1T","T":160,"v":1.0},{"s":"1T","T":165,"v":1.2},{"s":"1T","T":170,"v":1.5},{"s":"1T","T":175,"v":1.9},{"s":"1T","T":180,"v":2.4},{"s":"1T","T":185,"v":2.8},{"s":"1T","T":190,"v":3.0},{"s":"1T","T":195,"v":2.7},{"s":"1T","T":200,"v":2.35},{"s":"1T","T":205,"v":2.0},{"s":"1T","T":210,"v":1.62},{"s":"1T","T":215,"v":1.27},{"s":"1T","T":220,"v":0.96},{"s":"1T","T":225,"v":0.72},{"s":"1T","T":230,"v":0.53},{"s":"1T","T":235,"v":0.38},{"s":"1T","T":240,"v":0.27},{"s":"1T","T":245,"v":0.18},{"s":"1T","T":250,"v":0.11},{"s":"1T","T":255,"v":0.05},{"s":"1T","T":260,"v":0},{"s":"1T","T":265,"v":-0.04},{"s":"1T","T":270,"v":-0.07},{"s":"1T","T":275,"v":-0.1},{"s":"1T","T":280,"v":-0.12},{"s":"1T","T":285,"v":-0.13},{"s":"1T","T":290,"v":-0.14},{"s":"1T","T":295,"v":-0.15},{"s":"1T","T":300,"v":-0.15},
{"s":"0.5T","T":5,"v":0.4},{"s":"0.5T","T":10,"v":0.4},{"s":"0.5T","T":15,"v":0.4},{"s":"0.5T","T":20,"v":0.35},{"s":"0.5T","T":25,"v":0.25},{"s":"0.5T","T":30,"v":0.05},{"s":"0.5T","T":35,"v":-0.2},{"s":"0.5T","T":40,"v":-0.55},{"s":"0.5T","T":45,"v":-1.0},{"s":"0.5T","T":50,"v":-0.55},{"s":"0.5T","T":55,"v":-0.2},{"s":"0.5T","T":60,"v":0},{"s":"0.5T","T":65,"v":0.08},{"s":"0.5T","T":70,"v":0.14},{"s":"0.5T","T":75,"v":0.19},{"s":"0.5T","T":80,"v":0.23},{"s":"0.5T","T":85,"v":0.26},{"s":"0.5T","T":90,"v":0.29},{"s":"0.5T","T":95,"v":0.31},{"s":"0.5T","T":100,"v":0.33},{"s":"0.5T","T":105,"v":0.35},{"s":"0.5T","T":110,"v":0.37},{"s":"0.5T","T":115,"v":0.39},{"s":"0.5T","T":120,"v":0.41},{"s":"0.5T","T":125,"v":0.43},{"s":"0.5T","T":130,"v":0.45},{"s":"0.5T","T":135,"v":0.48},{"s":"0.5T","T":140,"v":0.52},{"s":"0.5T","T":145,"v":0.57},{"s":"0.5T","T":150,"v":0.63},{"s":"0.5T","T":155,"v":0.71},{"s":"0.5T","T":160,"v":0.81},{"s":"0.5T","T":165,"v":0.95},{"s":"0.5T","T":170,"v":1.13},{"s":"0.5T","T":175,"v":1.38},{"s":"0.5T","T":180,"v":1.68},{"s":"0.5T","T":185,"v":1.9},{"s":"0.5T","T":190,"v":2.0},{"s":"0.5T","T":195,"v":1.8},{"s":"0.5T","T":200,"v":1.55},{"s":"0.5T","T":205,"v":1.3},{"s":"0.5T","T":210,"v":1.05},{"s":"0.5T","T":215,"v":0.8},{"s":"0.5T","T":220,"v":0.58},{"s":"0.5T","T":225,"v":0.4},{"s":"0.5T","T":230,"v":0.26},{"s":"0.5T","T":235,"v":0.15},{"s":"0.5T","T":240,"v":0.06},{"s":"0.5T","T":245,"v":-0.01},{"s":"0.5T","T":250,"v":-0.07},{"s":"0.5T","T":255,"v":-0.12},{"s":"0.5T","T":260,"v":-0.16},{"s":"0.5T","T":265,"v":-0.19},{"s":"0.5T","T":270,"v":-0.22},{"s":"0.5T","T":275,"v":-0.24},{"s":"0.5T","T":280,"v":-0.26},{"s":"0.5T","T":285,"v":-0.27},{"s":"0.5T","T":290,"v":-0.28},{"s":"0.5T","T":295,"v":-0.29},{"s":"0.5T","T":300,"v":-0.3}
],
"d":[
{"s":"6T","T":5,"v":0.03},{"s":"6T","T":10,"v":0.04},{"s":"6T","T":15,"v":0.06},{"s":"6T","T":20,"v":0.08},{"s":"6T","T":25,"v":0.1},{"s":"6T","T":30,"v":0.12},{"s":"6T","T":35,"v":0.15},{"s":"6T","T":40,"v":0.18},{"s":"6T","T":45,"v":0.21},{"s":"6T","T":50,"v":0.24},{"s":"6T","T":55,"v":0.27},{"s":"6T","T":60,"v":0.31},{"s":"6T","T":65,"v":0.35},{"s":"6T","T":70,"v":0.39},{"s":"6T","T":75,"v":0.44},{"s":"6T","T":80,"v":0.49},{"s":"6T","T":85,"v":0.54},{"s":"6T","T":90,"v":0.59},{"s":"6T","T":95,"v":0.65},{"s":"6T","T":100,"v":0.71},{"s":"6T","T":105,"v":0.77},{"s":"6T","T":110,"v":0.84},{"s":"6T","T":115,"v":0.91},{"s":"6T","T":120,"v":0.98},{"s":"6T","T":125,"v":1.06},{"s":"6T","T":130,"v":1.14},{"s":"6T","T":135,"v":1.23},{"s":"6T","T":140,"v":1.32},{"s":"6T","T":145,"v":1.41},{"s":"6T","T":150,"v":1.5},{"s":"6T","T":155,"v":1.6},{"s":"6T","T":160,"v":1.7},{"s":"6T","T":165,"v":1.8},{"s":"6T","T":170,"v":1.91},{"s":"6T","T":175,"v":2.02},{"s":"6T","T":180,"v":2.13},{"s":"6T","T":185,"v":2.24},{"s":"6T","T":190,"v":2.35},{"s":"6T","T":195,"v":2.47},{"s":"6T","T":200,"v":2.59},{"s":"6T","T":205,"v":2.71},{"s":"6T","T":210,"v":2.83},{"s":"6T","T":215,"v":2.95},{"s":"6T","T":220,"v":3.07},{"s":"6T","T":225,"v":3.2},{"s":"6T","T":230,"v":3.08},{"s":"6T","T":235,"v":2.94},{"s":"6T","T":240,"v":2.78},{"s":"6T","T":245,"v":2.61},{"s":"6T","T":250,"v":2.43},{"s":"6T","T":255,"v":2.23},{"s":"6T","T":260,"v":2.02},{"s":"6T","T":265,"v":1.81},{"s":"6T","T":270,"v":1.6},{"s":"6T","T":275,"v":1.4},{"s":"6T","T":280,"v":1.2},{"s":"6T","T":285,"v":1.02},{"s":"6T","T":290,"v":0.87},{"s":"6T","T":295,"v":0.74},{"s":"6T","T":300,"v":0.64},
{"s":"5T","T":5,"v":0.03},{"s":"5T","T":10,"v":0.04},{"s":"5T","T":15,"v":0.05},{"s":"5T","T":20,"v":0.07},{"s":"5T","T":25,"v":0.09},{"s":"5T","T":30,"v":0.11},{"s":"5T","T":35,"v":0.13},{"s":"5T","T":40,"v":0.16},{"s":"5T","T":45,"v":0.19},{"s":"5T","T":50,"v":0.22},{"s":"5T","T":55,"v":0.24},{"s":"5T","T":60,"v":0.28},{"s":"5T","T":65,"v":0.32},{"s":"5T","T":70,"v":0.35},{"s":"5T","T":75,"v":0.4},{"s":"5T","T":80,"v":0.44},{"s":"5T","T":85,"v":0.49},{"s":"5T","T":90,"v":0.53},{"s":"5T","T":95,"v":0.59},{"s":"5T","T":100,"v":0.64},{"s":"5T","T":105,"v":0.69},{"s":"5T","T":110,"v":0.76},{"s":"5T","T":115,"v":0.82},{"s":"5T","T":120,"v":0.88},{"s":"5T","T":125,"v":0.95},{"s":"5T","T":130,"v":1.03},{"s":"5T","T":135,"v":1.11},{"s":"5T","T":140,"v":1.19},{"s":"5T","T":145,"v":1.27},{"s":"5T","T":150,"v":1.35},{"s":"5T","T":155,"v":1.44},{"s":"5T","T":160,"v":1.53},{"s":"5T","T":165,"v":1.62},{"s":"5T","T":170,"v":1.72},{"s":"5T","T":175,"v":1.82},{"s":"5T","T":180,"v":1.92},{"s":"5T","T":185,"v":2.02},{"s":"5T","T":190,"v":2.12},{"s":"5T","T":195,"v":2.22},{"s":"5T","T":200,"v":2.33},{"s":"5T","T":205,"v":2.44},{"s":"5T","T":210,"v":2.55},{"s":"5T","T":215,"v":2.66},{"s":"5T","T":220,"v":2.77},{"s":"5T","T":225,"v":2.88},{"s":"5T","T":230,"v":2.76},{"s":"5T","T":235,"v":2.62},{"s":"5T","T":240,"v":2.46},{"s":"5T","T":245,"v":2.29},{"s":"5T","T":250,"v":2.12},{"s":"5T","T":255,"v":1.94},{"s":"5T","T":260,"v":1.75},{"s":"5T","T":265,"v":1.57},{"s":"5T","T":270,"v":1.39},{"s":"5T","T":275,"v":1.21},{"s":"5T","T":280,"v":1.05},{"s":"5T","T":285,"v":0.91},{"s":"5T","T":290,"v":0.79},{"s":"5T","T":295,"v":0.69},{"s":"5T","T":300,"v":0.62},
{"s":"4T","T":5,"v":0.02},{"s":"4T","T":10,"v":0.03},{"s":"4T","T":15,"v":0.04},{"s":"4T","T":20,"v":0.05},{"s":"4T","T":25,"v":0.07},{"s":"4T","T":30,"v":0.08},{"s":"4T","T":35,"v":0.1},{"s":"4T","T":40,"v":0.12},{"s":"4T","T":45,"v":0.14},{"s":"4T","T":50,"v":0.16},{"s":"4T","T":55,"v":0.18},{"s":"4T","T":60,"v":0.21},{"s":"4T","T":65,"v":0.24},{"s":"4T","T":70,"v":0.27},{"s":"4T","T":75,"v":0.31},{"s":"4T","T":80,"v":0.35},{"s":"4T","T":85,"v":0.39},{"s":"4T","T":90,"v":0.43},{"s":"4T","T":95,"v":0.47},{"s":"4T","T":100,"v":0.52},{"s":"4T","T":105,"v":0.57},{"s":"4T","T":110,"v":0.62},{"s":"4T","T":115,"v":0.67},{"s":"4T","T":120,"v":0.73},{"s":"4T","T":125,"v":0.79},{"s":"4T","T":130,"v":0.85},{"s":"4T","T":135,"v":0.92},{"s":"4T","T":140,"v":0.99},{"s":"4T","T":145,"v":1.06},{"s":"4T","T":150,"v":1.13},{"s":"4T","T":155,"v":1.21},{"s":"4T","T":160,"v":1.29},{"s":"4T","T":165,"v":1.37},{"s":"4T","T":170,"v":1.45},{"s":"4T","T":175,"v":1.54},{"s":"4T","T":180,"v":1.63},{"s":"4T","T":185,"v":1.72},{"s":"4T","T":190,"v":1.81},{"s":"4T","T":195,"v":1.9},{"s":"4T","T":200,"v":2.0},{"s":"4T","T":205,"v":2.1},{"s":"4T","T":210,"v":2.2},{"s":"4T","T":215,"v":2.3},{"s":"4T","T":220,"v":2.4},{"s":"4T","T":225,"v":2.46},{"s":"4T","T":230,"v":2.35},{"s":"4T","T":235,"v":2.22},{"s":"4T","T":240,"v":2.08},{"s":"4T","T":245,"v":1.94},{"s":"4T","T":250,"v":1.79},{"s":"4T","T":255,"v":1.63},{"s":"4T","T":260,"v":1.47},{"s":"4T","T":265,"v":1.32},{"s":"4T","T":270,"v":1.17},{"s":"4T","T":275,"v":1.03},{"s":"4T","T":280,"v":0.91},{"s":"4T","T":285,"v":0.8},{"s":"4T","T":290,"v":0.71},{"s":"4T","T":295,"v":0.63},{"s":"4T","T":300,"v":0.57},
{"s":"3T","T":5,"v":0.02},{"s":"3T","T":10,"v":0.02},{"s":"3T","T":15,"v":0.03},{"s":"3T","T":20,"v":0.04},{"s":"3T","T":25,"v":0.05},{"s":"3T","T":30,"v":0.06},{"s":"3T","T":35,"v":0.07},{"s":"3T","T":40,"v":0.09},{"s":"3T","T":45,"v":0.1},{"s":"3T","T":50,"v":0.12},{"s":"3T","T":55,"v":0.14},{"s":"3T","T":60,"v":0.16},{"s":"3T","T":65,"v":0.18},{"s":"3T","T":70,"v":0.21},{"s":"3T","T":75,"v":0.23},{"s":"3T","T":80,"v":0.26},{"s":"3T","T":85,"v":0.29},{"s":"3T","T":90,"v":0.32},{"s":"3T","T":95,"v":0.36},{"s":"3T","T":100,"v":0.39},{"s":"3T","T":105,"v":0.43},{"s":"3T","T":110,"v":0.47},{"s":"3T","T":115,"v":0.51},{"s":"3T","T":120,"v":0.56},{"s":"3T","T":125,"v":0.61},{"s":"3T","T":130,"v":0.66},{"s":"3T","T":135,"v":0.71},{"s":"3T","T":140,"v":0.76},{"s":"3T","T":145,"v":0.82},{"s":"3T","T":150,"v":0.88},{"s":"3T","T":155,"v":0.94},{"s":"3T","T":160,"v":1.01},{"s":"3T","T":165,"v":1.08},{"s":"3T","T":170,"v":1.15},{"s":"3T","T":175,"v":1.23},{"s":"3T","T":180,"v":1.31},{"s":"3T","T":185,"v":1.39},{"s":"3T","T":190,"v":1.48},{"s":"3T","T":195,"v":1.57},{"s":"3T","T":200,"v":1.66},{"s":"3T","T":205,"v":1.75},{"s":"3T","T":210,"v":1.84},{"s":"3T","T":215,"v":1.93},{"s":"3T","T":220,"v":2.02},{"s":"3T","T":225,"v":2.08},{"s":"3T","T":230,"v":1.98},{"s":"3T","T":235,"v":1.87},{"s":"3T","T":240,"v":1.75},{"s":"3T","T":245,"v":1.62},{"s":"3T","T":250,"v":1.49},{"s":"3T","T":255,"v":1.36},{"s":"3T","T":260,"v":1.23},{"s":"3T","T":265,"v":1.1},{"s":"3T","T":270,"v":0.98},{"s":"3T","T":275,"v":0.87},{"s":"3T","T":280,"v":0.77},{"s":"3T","T":285,"v":0.69},{"s":"3T","T":290,"v":0.62},{"s":"3T","T":295,"v":0.56},{"s":"3T","T":300,"v":0.52},
{"s":"2T","T":5,"v":0.01},{"s":"2T","T":10,"v":0.01},{"s":"2T","T":15,"v":0.02},{"s":"2T","T":20,"v":0.02},{"s":"2T","T":25,"v":0.03},{"s":"2T","T":30,"v":0.04},{"s":"2T","T":35,"v":0.04},{"s":"2T","T":40,"v":0.05},{"s":"2T","T":45,"v":0.06},{"s":"2T","T":50,"v":0.07},{"s":"2T","T":55,"v":0.08},{"s":"2T","T":60,"v":0.09},{"s":"2T","T":65,"v":0.11},{"s":"2T","T":70,"v":0.12},{"s":"2T","T":75,"v":0.14},{"s":"2T","T":80,"v":0.16},{"s":"2T","T":85,"v":0.18},{"s":"2T","T":90,"v":0.2},{"s":"2T","T":95,"v":0.22},{"s":"2T","T":100,"v":0.24},{"s":"2T","T":105,"v":0.26},{"s":"2T","T":110,"v":0.29},{"s":"2T","T":115,"v":0.32},{"s":"2T","T":120,"v":0.35},{"s":"2T","T":125,"v":0.38},{"s":"2T","T":130,"v":0.42},{"s":"2T","T":135,"v":0.46},{"s":"2T","T":140,"v":0.5},{"s":"2T","T":145,"v":0.54},{"s":"2T","T":150,"v":0.58},{"s":"2T","T":155,"v":0.63},{"s":"2T","T":160,"v":0.68},{"s":"2T","T":165,"v":0.73},{"s":"2T","T":170,"v":0.79},{"s":"2T","T":175,"v":0.85},{"s":"2T","T":180,"v":0.91},{"s":"2T","T":185,"v":0.98},{"s":"2T","T":190,"v":1.05},{"s":"2T","T":195,"v":1.12},{"s":"2T","T":200,"v":1.2},{"s":"2T","T":205,"v":1.28},{"s":"2T","T":210,"v":1.36},{"s":"2T","T":215,"v":1.45},{"s":"2T","T":220,"v":1.54},{"s":"2T","T":225,"v":1.6},{"s":"2T","T":230,"v":1.5},{"s":"2T","T":235,"v":1.4},{"s":"2T","T":240,"v":1.3},{"s":"2T","T":245,"v":1.2},{"s":"2T","T":250,"v":1.1},{"s":"2T","T":255,"v":1.0},{"s":"2T","T":260,"v":0.91},{"s":"2T","T":265,"v":0.83},{"s":"2T","T":270,"v":0.75},{"s":"2T","T":275,"v":0.68},{"s":"2T","T":280,"v":0.62},{"s":"2T","T":285,"v":0.57},{"s":"2T","T":290,"v":0.53},{"s":"2T","T":295,"v":0.5},{"s":"2T","T":300,"v":0.47},
{"s":"1T","T":5,"v":0.01},{"s":"1T","T":10,"v":0.01},{"s":"1T","T":15,"v":0.01},{"s":"1T","T":20,"v":0.02},{"s":"1T","T":25,"v":0.02},{"s":"1T","T":30,"v":0.02},{"s":"1T","T":35,"v":0.03},{"s":"1T","T":40,"v":0.03},{"s":"1T","T":45,"v":0.04},{"s":"1T","T":50,"v":0.04},{"s":"1T","T":55,"v":0.05},{"s":"1T","T":60,"v":0.06},{"s":"1T","T":65,"v":0.06},{"s":"1T","T":70,"v":0.07},{"s":"1T","T":75,"v":0.08},{"s":"1T","T":80,"v":0.09},{"s":"1T","T":85,"v":0.1},{"s":"1T","T":90,"v":0.11},{"s":"1T","T":95,"v":0.13},{"s":"1T","T":100,"v":0.14},{"s":"1T","T":105,"v":0.16},{"s":"1T","T":110,"v":0.17},{"s":"1T","T":115,"v":0.19},{"s":"1T","T":120,"v":0.21},{"s":"1T","T":125,"v":0.23},{"s":"1T","T":130,"v":0.25},{"s":"1T","T":135,"v":0.28},{"s":"1T","T":140,"v":0.31},{"s":"1T","T":145,"v":0.34},{"s":"1T","T":150,"v":0.37},{"s":"1T","T":155,"v":0.4},{"s":"1T","T":160,"v":0.44},{"s":"1T","T":165,"v":0.48},{"s":"1T","T":170,"v":0.52},{"s":"1T","T":175,"v":0.57},{"s":"1T","T":180,"v":0.62},{"s":"1T","T":185,"v":0.67},{"s":"1T","T":190,"v":0.73},{"s":"1T","T":195,"v":0.79},{"s":"1T","T":200,"v":0.85},{"s":"1T","T":205,"v":0.92},{"s":"1T","T":210,"v":0.99},{"s":"1T","T":215,"v":1.07},{"s":"1T","T":220,"v":1.15},{"s":"1T","T":225,"v":1.2},{"s":"1T","T":230,"v":1.1},{"s":"1T","T":235,"v":1.01},{"s":"1T","T":240,"v":0.93},{"s":"1T","T":245,"v":0.85},{"s":"1T","T":250,"v":0.78},{"s":"1T","T":255,"v":0.72},{"s":"1T","T":260,"v":0.66},{"s":"1T","T":265,"v":0.61},{"s":"1T","T":270,"v":0.57},{"s":"1T","T":275,"v":0.53},{"s":"1T","T":280,"v":0.5},{"s":"1T","T":285,"v":0.47},{"s":"1T","T":290,"v":0.45},{"s":"1T","T":295,"v":0.43},{"s":"1T","T":300,"v":0.42},
{"s":"0.5T","T":5,"v":0},{"s":"0.5T","T":10,"v":0},{"s":"0.5T","T":15,"v":0.01},{"s":"0.5T","T":20,"v":0.01},{"s":"0.5T","T":25,"v":0.01},{"s":"0.5T","T":30,"v":0.01},{"s":"0.5T","T":35,"v":0.02},{"s":"0.5T","T":40,"v":0.02},{"s":"0.5T","T":45,"v":0.02},{"s":"0.5T","T":50,"v":0.03},{"s":"0.5T","T":55,"v":0.03},{"s":"0.5T","T":60,"v":0.03},{"s":"0.5T","T":65,"v":0.04},{"s":"0.5T","T":70,"v":0.04},{"s":"0.5T","T":75,"v":0.05},{"s":"0.5T","T":80,"v":0.05},{"s":"0.5T","T":85,"v":0.06},{"s":"0.5T","T":90,"v":0.07},{"s":"0.5T","T":95,"v":0.07},{"s":"0.5T","T":100,"v":0.08},{"s":"0.5T","T":105,"v":0.09},{"s":"0.5T","T":110,"v":0.1},{"s":"0.5T","T":115,"v":0.11},{"s":"0.5T","T":120,"v":0.12},{"s":"0.5T","T":125,"v":0.14},{"s":"0.5T","T":130,"v":0.15},{"s":"0.5T","T":135,"v":0.17},{"s":"0.5T","T":140,"v":0.18},{"s":"0.5T","T":145,"v":0.2},{"s":"0.5T","T":150,"v":0.22},{"s":"0.5T","T":155,"v":0.24},{"s":"0.5T","T":160,"v":0.26},{"s":"0.5T","T":165,"v":0.29},{"s":"0.5T","T":170,"v":0.32},{"s":"0.5T","T":175,"v":0.35},{"s":"0.5T","T":180,"v":0.38},{"s":"0.5T","T":185,"v":0.42},{"s":"0.5T","T":190,"v":0.46},{"s":"0.5T","T":195,"v":0.5},{"s":"0.5T","T":200,"v":0.55},{"s":"0.5T","T":205,"v":0.6},{"s":"0.5T","T":210,"v":0.65},{"s":"0.5T","T":215,"v":0.7},{"s":"0.5T","T":220,"v":0.76},{"s":"0.5T","T":225,"v":0.8},{"s":"0.5T","T":230,"v":0.72},{"s":"0.5T","T":235,"v":0.65},{"s":"0.5T","T":240,"v":0.59},{"s":"0.5T","T":245,"v":0.54},{"s":"0.5T","T":250,"v":0.5},{"s":"0.5T","T":255,"v":0.46},{"s":"0.5T","T":260,"v":0.43},{"s":"0.5T","T":265,"v":0.41},{"s":"0.5T","T":270,"v":0.39},{"s":"0.5T","T":275,"v":0.37},{"s":"0.5T","T":280,"v":0.35},{"s":"0.5T","T":285,"v":0.34},{"s":"0.5T","T":290,"v":0.33},{"s":"0.5T","T":295,"v":0.32},{"s":"0.5T","T":300,"v":0.31}
]
},
"concat":[
{
"width":173,"height":139,
"title":{"text":"a.","dx":-26},
"data":{"name":"a"},
"encoding":{
"x":{"field":"T","type":"quantitative","scale":{"domain":[0,300],"nice":false},"axis":{"values":[0,50,100,150,200,250,300],"title":"T (K)"}},
"y":{"field":"v","type":"quantitative","scale":{"domain":[-6,14],"nice":false,"zero":false},"axis":{"values":[-4,0,4,8,12],"labelExpr":"''+datum.value","titlePadding":-1.5,"title":["Thickness (t) Dependence","−ΔS_M (J/kg-K)"]}}
},
"layer":[
{"mark":{"type":"line","strokeWidth":0.8},"encoding":{"stroke":{"field":"s","type":"nominal","scale":{"domain":["25 nm","50 nm","75 nm","100 nm","300 nm"],"range":["#000000","#ff0000","#0000ff","#ff00ff","#008000"]},"legend":null}}},
{"mark":{"type":"point","filled":true,"size":20,"strokeWidth":0.8,"opacity":1},"encoding":{
"fill":{"field":"s","type":"nominal","scale":{"domain":["25 nm","50 nm","75 nm","100 nm","300 nm"],"range":["#000000","#ff0000","#0000ff","#ff00ff","#008000"]},"legend":null},
"stroke":{"field":"s","type":"nominal","scale":{"domain":["25 nm","50 nm","75 nm","100 nm","300 nm"],"range":["#000000","#ff0000","#0000ff","#ff00ff","#008000"]},"legend":null},
"shape":{"field":"s","type":"nominal","scale":{"domain":["25 nm","50 nm","75 nm","100 nm","300 nm"],"range":["M-1,-1H1V1H-1ZM-1,0V1H1V0Z","M-1,0A1,1,0,0,1,1,0A1,1,0,0,1,-1,0ZM-1,0A1,1,0,0,0,1,0Z","M0,-1L1,1H-1ZM-0.5,0L-1,1H1L0.5,0Z","M-1,-1H1L0,1ZM-0.5,0L0,1L0.5,0Z","M0,-1L1,0L0,1L-1,0ZM-1,0L0,1L1,0Z"]},"legend":null}}},
{"transform":[{"filter":"datum.T==300"}],"mark":{"type":"point","filled":true,"opacity":0},"encoding":{
"fill":{"field":"s","type":"nominal","title":null,"scale":{"domain":["25 nm","50 nm","75 nm","100 nm","300 nm"],"range":["#000000","#ff0000","#0000ff","#ff00ff","#008000"]}},
"stroke":{"field":"s","type":"nominal","title":null,"scale":{"domain":["25 nm","50 nm","75 nm","100 nm","300 nm"],"range":["#000000","#ff0000","#0000ff","#ff00ff","#008000"]}},
"shape":{"field":"s","type":"nominal","title":null,"scale":{"domain":["25 nm","50 nm","75 nm","100 nm","300 nm"],"range":["M-1.8,0H1.8M-0.33,-0.33H0.33V0.33H-0.33ZM-0.33,0V0.33H0.33V0Z","M-1.8,0H1.8M-0.33,0A0.33,0.33,0,0,1,0.33,0A0.33,0.33,0,0,1,-0.33,0ZM-0.33,0A0.33,0.33,0,0,0,0.33,0Z","M-1.8,0H1.8M0,-0.33L0.33,0.33H-0.33ZM-0.17,0L-0.33,0.33H0.33L0.17,0Z","M-1.8,0H1.8M-0.33,-0.33H0.33L0,0.33ZM-0.17,0L0,0.33L0.17,0Z","M-1.8,0H1.8M0,-0.33L0.33,0L0,0.33L-0.33,0ZM-0.33,0L0,0.33L0.33,0Z"]},"legend":{"legendX":16.5,"legendY":3,"labelOffset":8.4}}}},
{"data":{"values":[{"T":190,"v":-3.5,"label":"LCMO/STO"}]},"mark":{"type":"text","fontSize":14.5,"baseline":"middle"},"encoding":{"text":{"field":"label"}}}
],
"resolve":{"scale":{"fill":"independent","stroke":"independent","shape":"independent"}}
},
{
"width":172,"height":139,
"title":{"text":"b.","dx":-31},
"data":{"name":"b"},
"encoding":{
"x":{"field":"T","type":"quantitative","scale":{"domain":[0,300],"nice":false},"axis":{"values":[0,50,100,150,200,250,300],"title":"T (K)"}},
"y":{"field":"v","type":"quantitative","scale":{"domain":[-0.25,3.5],"nice":false,"zero":false},"axis":{"values":[0,1,2,3],"titlePadding":9.5,"title":"−ΔS_M (J/kg-K)"}}
},
"layer":[
{"mark":{"type":"line","strokeWidth":0.8},"encoding":{"stroke":{"field":"s","type":"nominal","scale":{"domain":["25 nm","50 nm","75 nm","100 nm","300 nm"],"range":["#0000ff","#ff0000","#000000","#ff00ff","#008000"]},"legend":null}}},
{"mark":{"type":"point","filled":true,"size":20,"strokeWidth":0.8,"opacity":1},"encoding":{
"fill":{"field":"s","type":"nominal","scale":{"domain":["25 nm","50 nm","75 nm","100 nm","300 nm"],"range":["#0000ff","#ff0000","#000000","#ff00ff","#008000"]},"legend":null},
"stroke":{"field":"s","type":"nominal","scale":{"domain":["25 nm","50 nm","75 nm","100 nm","300 nm"],"range":["#0000ff","#ff0000","#000000","#ff00ff","#008000"]},"legend":null},
"shape":{"field":"s","type":"nominal","scale":{"domain":["25 nm","50 nm","75 nm","100 nm","300 nm"],"range":["M0,-1L1,1H-1ZM-0.5,0L-1,1H1L0.5,0Z","M-1,0A1,1,0,0,1,1,0A1,1,0,0,1,-1,0ZM-1,0A1,1,0,0,0,1,0Z","M-1,-1H1V1H-1ZM-1,0V1H1V0Z","M-1,-1H1L0,1ZM-0.5,0L0,1L0.5,0Z","M0,-1L1,0L0,1L-1,0ZM-1,0L0,1L1,0Z"]},"legend":null}}},
{"transform":[{"filter":"datum.T==300"}],"mark":{"type":"point","filled":true,"opacity":0},"encoding":{
"fill":{"field":"s","type":"nominal","title":null,"scale":{"domain":["25 nm","50 nm","75 nm","100 nm","300 nm"],"range":["#0000ff","#ff0000","#000000","#ff00ff","#008000"]}},
"stroke":{"field":"s","type":"nominal","title":null,"scale":{"domain":["25 nm","50 nm","75 nm","100 nm","300 nm"],"range":["#0000ff","#ff0000","#000000","#ff00ff","#008000"]}},
"shape":{"field":"s","type":"nominal","title":null,"scale":{"domain":["25 nm","50 nm","75 nm","100 nm","300 nm"],"range":["M-1.8,0H1.8M0,-0.33L0.33,0.33H-0.33ZM-0.17,0L-0.33,0.33H0.33L0.17,0Z","M-1.8,0H1.8M-0.33,0A0.33,0.33,0,0,1,0.33,0A0.33,0.33,0,0,1,-0.33,0ZM-0.33,0A0.33,0.33,0,0,0,0.33,0Z","M-1.8,0H1.8M-0.33,-0.33H0.33V0.33H-0.33ZM-0.33,0V0.33H0.33V0Z","M-1.8,0H1.8M-0.33,-0.33H0.33L0,0.33ZM-0.17,0L0,0.33L0.17,0Z","M-1.8,0H1.8M0,-0.33L0.33,0L0,0.33L-0.33,0ZM-0.33,0L0,0.33L0.33,0Z"]},"legend":{"legendX":10,"legendY":3.3,"labelOffset":7}}}},
{"data":{"values":[{"T":228,"v":0.02,"label":"LCMO/LAO"}]},"mark":{"type":"text","fontSize":14.5,"baseline":"middle"},"encoding":{"text":{"field":"label"}}}
],
"resolve":{"scale":{"fill":"independent","stroke":"independent","shape":"independent"}}
},
{
"width":173,"height":140,
"title":{"text":"c.","dx":-26},
"data":{"name":"c"},
"encoding":{
"x":{"field":"T","type":"quantitative","scale":{"domain":[0,300],"nice":false},"axis":{"values":[0,50,100,150,200,250,300],"title":"T (K)"}},
"y":{"field":"v","type":"quantitative","scale":{"domain":[-6,14],"nice":false,"zero":false},"axis":{"values":[-4,0,4,8,12],"labelExpr":"''+datum.value","titlePadding":-1.5,"title":["Field (H) Dependence","−ΔS_M (J/kg-K)"]}}
},
"layer":[
{"mark":{"type":"line","strokeWidth":0.8},"encoding":{"stroke":{"field":"s","type":"nominal","scale":{"domain":["6T","5T","4T","3T","2T","1T","0.5T"],"range":["#000000","#ff0000","#0000ff","#ff00ff","#008000","#000080","#8000ff"]},"legend":null}}},
{"mark":{"type":"point","filled":true,"size":20,"strokeWidth":0.8,"opacity":1},"encoding":{
"fill":{"field":"s","type":"nominal","scale":{"domain":["6T","5T","4T","3T","2T","1T","0.5T"],"range":["#000000","#ff0000","#0000ff","#ff00ff","#008000","#000080","#8000ff"]},"legend":null},
"stroke":{"field":"s","type":"nominal","scale":{"domain":["6T","5T","4T","3T","2T","1T","0.5T"],"range":["#000000","#ff0000","#0000ff","#ff00ff","#008000","#000080","#8000ff"]},"legend":null},
"shape":{"field":"s","type":"nominal","scale":{"domain":["6T","5T","4T","3T","2T","1T","0.5T"],"range":["M-1,-1H1V1H-1ZM-1,0V1H1V0Z","M-1,0A1,1,0,0,1,1,0A1,1,0,0,1,-1,0ZM-1,0A1,1,0,0,0,1,0Z","M0,-1L1,1H-1ZM-0.5,0L-1,1H1L0.5,0Z","M-1,-1H1L0,1ZM-0.5,0L0,1L0.5,0Z","M0,-1L1,0L0,1L-1,0ZM-1,0L0,1L1,0Z","M-1,0L1,-1V1ZM-1,0L1,1V0Z","M1,0L-1,1V-1ZM1,0L-1,0V1Z"]},"legend":null}}},
{"transform":[{"filter":"datum.T==300"}],"mark":{"type":"point","filled":true,"opacity":0},"encoding":{
"fill":{"field":"s","type":"nominal","title":null,"scale":{"domain":["6T","5T","4T","3T","2T","1T","0.5T"],"range":["#000000","#ff0000","#0000ff","#ff00ff","#008000","#000080","#8000ff"]}},
"stroke":{"field":"s","type":"nominal","title":null,"scale":{"domain":["6T","5T","4T","3T","2T","1T","0.5T"],"range":["#000000","#ff0000","#0000ff","#ff00ff","#008000","#000080","#8000ff"]}},
"shape":{"field":"s","type":"nominal","title":null,"scale":{"domain":["6T","5T","4T","3T","2T","1T","0.5T"],"range":["M-1,0H1M-0.33,-0.33H0.33V0.33H-0.33ZM-0.33,0V0.33H0.33V0Z","M-1,0H1M-0.33,0A0.33,0.33,0,0,1,0.33,0A0.33,0.33,0,0,1,-0.33,0ZM-0.33,0A0.33,0.33,0,0,0,0.33,0Z","M-1,0H1M0,-0.33L0.33,0.33H-0.33ZM-0.17,0L-0.33,0.33H0.33L0.17,0Z","M-1,0H1M-0.33,-0.33H0.33L0,0.33ZM-0.17,0L0,0.33L0.17,0Z","M-1,0H1M0,-0.33L0.33,0L0,0.33L-0.33,0ZM-0.33,0L0,0.33L0.33,0Z","M-1,0H1M-0.33,0L0.33,-0.33V0.33ZM-0.33,0L0.33,0.33V0Z","M-1,0H1M0.33,0L-0.33,0.33V-0.33ZM0.33,0L-0.33,0V0.33Z"]},"legend":{"legendX":6,"legendY":6,"labelOffset":1,"columns":2,"columnPadding":13.4,"rowPadding":3.5}}}},
{"data":{"values":[{"T":190,"v":-3.55,"label":"LCMO/STO_75nm"}]},"mark":{"type":"text","fontSize":14.5,"baseline":"middle"},"encoding":{"text":{"field":"label"}}}
],
"resolve":{"scale":{"fill":"independent","stroke":"independent","shape":"independent"}}
},
{
"width":172,"height":140,
"title":{"text":"d.","dx":-31},
"data":{"name":"d"},
"encoding":{
"x":{"field":"T","type":"quantitative","scale":{"domain":[0,300],"nice":false},"axis":{"values":[0,50,100,150,200,250,300],"title":"T (K)"}},
"y":{"field":"v","type":"quantitative","scale":{"domain":[-0.5,3.5],"nice":false,"zero":false},"axis":{"values":[0,1,2,3],"titlePadding":9.5,"title":"−ΔS_M (J/kg-K)"}}
},
"layer":[
{"mark":{"type":"line","strokeWidth":0.8},"encoding":{"stroke":{"field":"s","type":"nominal","scale":{"domain":["6T","5T","4T","3T","2T","1T","0.5T"],"range":["#000000","#ff0000","#0000ff","#ff00ff","#008000","#000080","#8000ff"]},"legend":null}}},
{"mark":{"type":"point","filled":true,"size":20,"strokeWidth":0.8,"opacity":1},"encoding":{
"fill":{"field":"s","type":"nominal","scale":{"domain":["6T","5T","4T","3T","2T","1T","0.5T"],"range":["#000000","#ff0000","#0000ff","#ff00ff","#008000","#000080","#8000ff"]},"legend":null},
"stroke":{"field":"s","type":"nominal","scale":{"domain":["6T","5T","4T","3T","2T","1T","0.5T"],"range":["#000000","#ff0000","#0000ff","#ff00ff","#008000","#000080","#8000ff"]},"legend":null},
"shape":{"field":"s","type":"nominal","scale":{"domain":["6T","5T","4T","3T","2T","1T","0.5T"],"range":["M-1,-1H1V1H-1ZM-1,0V1H1V0Z","M-1,0A1,1,0,0,1,1,0A1,1,0,0,1,-1,0ZM-1,0A1,1,0,0,0,1,0Z","M0,-1L1,1H-1ZM-0.5,0L-1,1H1L0.5,0Z","M-1,-1H1L0,1ZM-0.5,0L0,1L0.5,0Z","M0,-1L1,0L0,1L-1,0ZM-1,0L0,1L1,0Z","M-1,0L1,-1V1ZM-1,0L1,1V0Z","M1,0L-1,1V-1ZM1,0L-1,0V1Z"]},"legend":null}}},
{"transform":[{"filter":"datum.T==300"}],"mark":{"type":"point","filled":true,"opacity":0},"encoding":{
"fill":{"field":"s","type":"nominal","title":null,"scale":{"domain":["6T","5T","4T","3T","2T","1T","0.5T","e1","e2","e3"],"range":["#000000","#ff0000","#0000ff","#ff00ff","#008000","#000080","#8000ff","#ffffff","#ffffff","#ffffff"]}},
"stroke":{"field":"s","type":"nominal","title":null,"scale":{"domain":["6T","5T","4T","3T","2T","1T","0.5T","e1","e2","e3"],"range":["#000000","#ff0000","#0000ff","#ff00ff","#008000","#000080","#8000ff","#ffffff","#ffffff","#ffffff"]}},
"shape":{"field":"s","type":"nominal","title":null,"scale":{"domain":["6T","5T","4T","3T","2T","1T","0.5T","e1","e2","e3"],"range":["M-1,0H1M-0.33,-0.33H0.33V0.33H-0.33ZM-0.33,0V0.33H0.33V0Z","M-1,0H1M-0.33,0A0.33,0.33,0,0,1,0.33,0A0.33,0.33,0,0,1,-0.33,0ZM-0.33,0A0.33,0.33,0,0,0,0.33,0Z","M-1,0H1M0,-0.33L0.33,0.33H-0.33ZM-0.17,0L-0.33,0.33H0.33L0.17,0Z","M-1,0H1M-0.33,-0.33H0.33L0,0.33ZM-0.17,0L0,0.33L0.17,0Z","M-1,0H1M0,-0.33L0.33,0L0,0.33L-0.33,0ZM-0.33,0L0,0.33L0.33,0Z","M-1,0H1M-0.33,0L0.33,-0.33V0.33ZM-0.33,0L0.33,0.33V0Z","M-1,0H1M0.33,0L-0.33,0.33V-0.33ZM0.33,0L-0.33,0V0.33Z","M0,0","M0,0","M0,0"]},"legend":{"legendX":8.5,"legendY":5,"labelOffset":2.5,"columns":2,"columnPadding":11.4,"labelExpr":"indexof(datum.label,'e')==0 ? '' : datum.label"}}}},
{"data":{"values":[{"T":200,"v":-0.14,"label":"LCMO/LAO_75nm"}]},"mark":{"type":"text","fontSize":14.5,"baseline":"middle"},"encoding":{"text":{"field":"label"}}}
],
"resolve":{"scale":{"fill":"independent","stroke":"independent","shape":"independent"}}
}
]
}
